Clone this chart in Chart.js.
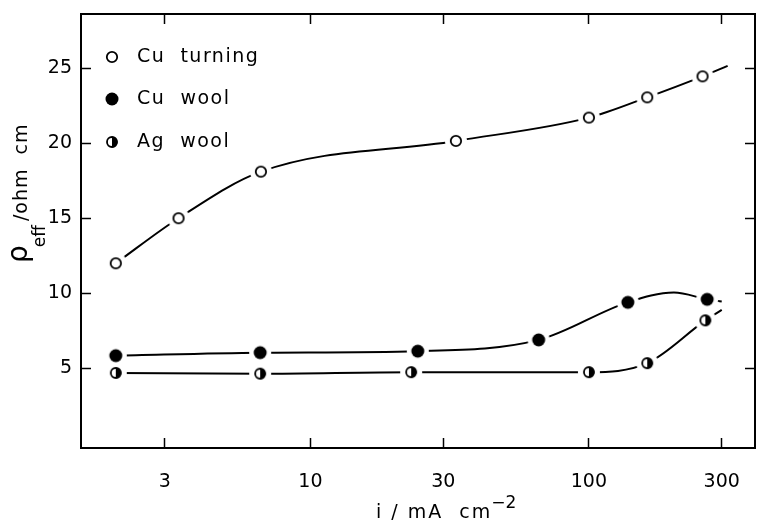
<!DOCTYPE html>
<html lang="en">
<head>
    <meta charset="UTF-8">
    <title>Effective resistivity vs current density</title>
    <script src="https://cdn.jsdelivr.net/npm/chart.js"></script>
    <style>
        body { margin: 0; padding: 0; background: #fff; }
        canvas { display: block; }
    </style>
</head>
<body>
    <canvas id="rhoChart" width="762" height="525"></canvas>

    <script>
        // tick positions
        const xTicks = [3, 10, 30, 100, 300];
        const yTicks = [5, 10, 15, 20, 25];

        // measured points (i in mA cm-2, rho in ohm cm)
        const turningI = [2.0, 3.36, 6.64, 33.3, 100, 162, 256];
        const turningRho = [12.0, 15.0, 18.1, 20.15, 21.7, 23.05, 24.45];
        const cuWoolI = [2.0, 6.6, 24.3, 66, 138, 266];
        const cuWoolRho = [5.85, 6.05, 6.15, 6.9, 9.4, 9.6];
        const agWoolI = [2.0, 6.6, 23, 100, 162, 262];
        const agWoolRho = [4.7, 4.65, 4.75, 4.75, 5.35, 8.2];

        // hand-drawn curves
        const turningCurveI = [2.0, 3.36, 6.64, 33.3, 100, 162, 256, 315];
        const turningCurveRho = [12.0, 15.0, 18.1, 20.15, 21.7, 23.05, 24.45, 25.15];
        const cuWoolCurveI = [2.0, 6.6, 24.3, 66, 138, 202, 266, 300];
        const cuWoolCurveRho = [5.85, 6.05, 6.15, 6.9, 9.4, 10.05, 9.6, 9.45];
        const agWoolCurveI = [2.0, 6.6, 23, 100, 162, 262, 300];
        const agWoolCurveRho = [4.7, 4.65, 4.75, 4.75, 5.35, 8.2, 8.9];

        const legendNames = ['Cu  turning', 'Cu  wool', 'Ag  wool'];

        const FONT = "'DejaVu Sans', sans-serif";
        const pts = (xs, ys) => xs.map((x, k) => ({ x: x, y: ys[k] }));

        // marker images with a white ring round them, so the curve stops short of each point
        function markerImg(kind) {
            const c = document.createElement('canvas');
            c.width = c.height = 26;
            const g = c.getContext('2d');
            const m = 13;
            g.fillStyle = '#fff';
            g.beginPath(); g.arc(m, m, 11, 0, 2 * Math.PI); g.fill();
            g.strokeStyle = '#000';
            g.lineWidth = 1.8;
            if (kind === 'open') {
                g.beginPath(); g.arc(m, m, 5.2, 0, 2 * Math.PI); g.stroke();
            } else if (kind === 'full') {
                g.fillStyle = '#000';
                g.beginPath(); g.arc(m, m, 6.5, 0, 2 * Math.PI); g.fill();
            } else {
                g.fillStyle = '#000';
                g.beginPath(); g.arc(m, m, 5.5, -Math.PI / 2, Math.PI / 2); g.closePath(); g.fill();
                g.beginPath(); g.arc(m, m, 5, 0, 2 * Math.PI); g.stroke();
            }
            return c;
        }
        const markers = [markerImg('open'), markerImg('full'), markerImg('half')];

        function curve(xs, ys) {
            return {
                type: 'line', data: pts(xs, ys), borderColor: '#000', borderWidth: 2,
                pointRadius: 0, cubicInterpolationMode: 'monotone', fill: false, order: 2
            };
        }
        function points(label, xs, ys, img) {
            return { label: label, data: pts(xs, ys), pointStyle: img, pointRadius: 6, order: 0 };
        }

        const frameGrid = { drawOnChartArea: false, tickLength: -10, tickWidth: 1.5, tickColor: '#000' };
        const frameBorder = { color: '#000', width: 2 };
        const noPad = s => { s.paddingLeft = s.paddingRight = s.paddingTop = s.paddingBottom = 0; };

        // legend inside the plot + axis titles with sub/superscripts
        const extras = {
            id: 'extras',
            afterDraw(chart) {
                const ctx = chart.ctx;
                ctx.save();
                ctx.fillStyle = '#000';

                const rows = [57, 99, 142];
                rows.forEach((y, k) => {
                    const img = markers[k];
                    ctx.drawImage(img, 112 - img.width / 2, y - img.height / 2);
                    ctx.fillStyle = '#000';
                    ctx.font = '19px ' + FONT;
                    ctx.letterSpacing = '1.5px';
                    ctx.textBaseline = 'middle';
                    ctx.textAlign = 'left';
                    ctx.fillText(legendNames[k], 137, y);
                });

                // x title: i / mA cm^-2
                ctx.textBaseline = 'alphabetic';
                ctx.font = '19px ' + FONT;
                ctx.letterSpacing = '2px';
                const xt = 'i / mA  cm';
                ctx.fillText(xt, 376, 518);
                const w = ctx.measureText(xt).width;
                ctx.font = '17px ' + FONT;
                ctx.letterSpacing = '0px';
                ctx.fillText('\u22122', 376 + w - 1, 508);

                // y title: rho_eff /ohm cm (rotated)
                ctx.translate(27, 263);
                ctx.rotate(-Math.PI / 2);
                ctx.font = '28px ' + FONT;
                ctx.fillText('\u03c1', 0, 0);
                let px = ctx.measureText('\u03c1').width;
                ctx.font = '17px ' + FONT;
                ctx.fillText('eff', px - 2, 18);
                px += ctx.measureText('eff').width + 2;
                ctx.font = '19px ' + FONT;
                ctx.letterSpacing = '1px';
                ctx.fillText('/ohm  cm', px, 0);
                ctx.restore();
            }
        };

        new Chart(document.getElementById('rhoChart'), {
            type: 'scatter',
            data: {
                datasets: [
                    points('Cu turning', turningI, turningRho, markers[0]),
                    points('Cu wool', cuWoolI, cuWoolRho, markers[1]),
                    points('Ag wool', agWoolI, agWoolRho, markers[2]),
                    curve(turningCurveI, turningCurveRho),
                    curve(cuWoolCurveI, cuWoolCurveRho),
                    curve(agWoolCurveI, agWoolCurveRho)
                ]
            },
            options: {
                responsive: false,
                animation: false,
                events: [],
                layout: { padding: 0 },
                plugins: { legend: { display: false }, tooltip: { enabled: false } },
                scales: {
                    x: {
                        type: 'logarithmic', position: 'bottom', min: 1.5, max: 395,
                        afterBuildTicks: s => { s.ticks = xTicks.map(v => ({ value: v })); },
                        afterFit: s => { s.height = 77; noPad(s); },
                        ticks: {
                            callback: v => String(v), color: '#000', font: { family: FONT, size: 19 },
                            padding: 33, autoSkip: false, maxRotation: 0
                        },
                        grid: frameGrid, border: frameBorder
                    },
                    x2: {
                        type: 'logarithmic', position: 'top', min: 1.5, max: 395,
                        afterBuildTicks: s => { s.ticks = xTicks.map(v => ({ value: v })); },
                        afterFit: s => { s.height = 14; noPad(s); },
                        ticks: { display: false },
                        grid: frameGrid, border: frameBorder
                    },
                    y: {
                        type: 'linear', position: 'left', min: -0.3, max: 28.6,
                        afterBuildTicks: s => { s.ticks = yTicks.map(v => ({ value: v })); },
                        afterFit: s => { s.width = 81; noPad(s); },
                        ticks: { color: '#000', font: { family: FONT, size: 19 }, padding: 19 },
                        grid: frameGrid, border: frameBorder
                    },
                    y2: {
                        type: 'linear', position: 'right', min: -0.3, max: 28.6,
                        afterBuildTicks: s => { s.ticks = yTicks.map(v => ({ value: v })); },
                        afterFit: s => { s.width = 2; noPad(s); },
                        ticks: { display: false },
                        grid: frameGrid, border: frameBorder
                    }
                }
            },
            plugins: [extras]
        });
    </script>
</body>
</html>
